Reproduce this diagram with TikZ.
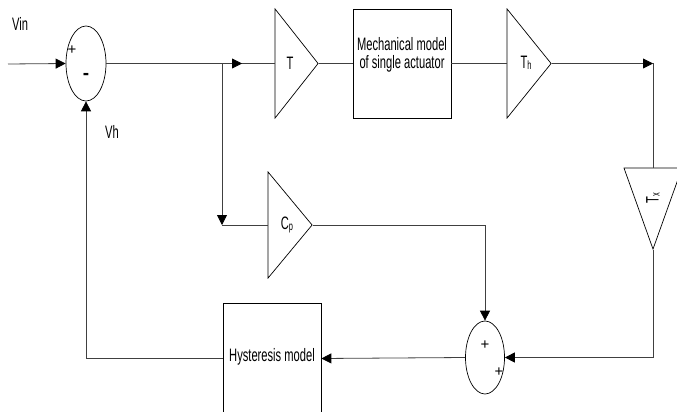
\documentclass[tikz,border=0pt]{standalone}
\usepackage{fontspec}
\setmainfont{Liberation Sans}[FakeStretch=0.62]
\newfontfamily\signfont{Liberation Sans}
\usetikzlibrary{shapes.geometric,arrows.meta}

\newcommand\sbs[1]{\raisebox{-1pt}{\fontsize{12}{12}\selectfont #1}}

\tikzset{
    line/.style={draw=black!75, line width=0.8pt},
    arr/.style={line, -{Triangle[length=10pt,width=10pt,black]}},
    sumnode/.style={ellipse, draw, line width=0.7pt, inner sep=0pt},
    gain/.style={isosceles triangle, isosceles triangle stretches, draw, line width=0.7pt, inner sep=0pt},
    blockbox/.style={rectangle, draw, line width=0.7pt, inner sep=0pt},
    signlab/.style={font=\signfont\fontsize{15}{15}\selectfont, inner sep=0pt}
}

\begin{document}
\begin{tikzpicture}[x=1pt, y=-1pt, font=\fontsize{18}{18}\selectfont]
    \useasboundingbox (0,0) rectangle (677,412);

    % 求和点
    \node[sumnode, minimum width=40pt, minimum height=75pt] (sumA) at (86,63.5) {};
    \node[sumnode, minimum width=39pt, minimum height=73pt] (sumB) at (485,357.5) {};
    \node[signlab] (sumAp) at (72,50) {+};
    \node[signlab, font=\signfont\fontsize{19}{19}\selectfont\bfseries] (sumAm) at (86,76) {-};
    \node[signlab] (sumBp) at (485,345) {+};
    \node[signlab] (sumBq) at (499,372) {+};

    % 增益三角形
    \node[gain, anchor=apex, minimum width=109pt, minimum height=43pt] (gainT) at (319,63.5) {};
    \node[gain, anchor=apex, minimum width=109pt, minimum height=44pt] (gainTh) at (552,63.5) {};
    \node[gain, anchor=apex, minimum width=106pt, minimum height=44pt] (gainCp) at (313,225) {};
    \node[gain, anchor=apex, shape border rotate=270, minimum width=58pt, minimum height=81pt] (gainTx) at (653,250) {};
    \node (Tlab) at (290,63) {T};
    \node (Thlab) at (526,63) {T\sbs{h}};
    \node (Cplab) at (287,225) {C\sbs{p}};
    \node[rotate=90] (Txlab) at (653,198) {T\sbs{x}};

    % 方框
    \node[blockbox, minimum width=98pt, minimum height=109pt] (mech) at (402,63.5) {};
    \node[align=center] (mechlab) at (402,55) {Mechanical model\\of single actuator};
    \node[blockbox, minimum width=98pt, minimum height=111pt] (hyst) at (272,358.5) {};
    \node (hystlab) at (272,357) {Hysteresis model};

    % 标注
    \node (vinlab) at (20,24) {Vin};
    \node (vhlab) at (112,132) {Vh};

    % 连线
    \coordinate (vin) at (8,64);
    \coordinate (brA) at (222,63.5);
    \coordinate (midA) at (242,63.5);
    \coordinate (brB) at (222,225);
    \coordinate (cnr) at (653,63.5);
    \draw[arr] (vin) -- (sumA.west);
    \draw[line] (sumA.east) -- (gainT.west);
    \draw[arr] (brA) -- (midA);
    \draw[line] (gainT.apex) -- (mech.west);
    \draw[line] (mech.east) -- (gainTh.west);
    \draw[arr] (gainTh.apex) -- (cnr);
    \draw[line] (cnr) -- (gainTx.north);
    \draw[arr] (brA) -- (brB);
    \draw[line] (brB) -- (gainCp.west);
    \draw[arr] (gainCp.apex) -| (sumB.north);
    \draw[arr] (gainTx.apex) |- (sumB.east);
    \draw[arr] (sumB.west) -- (hyst.east);
    \draw[arr] (hyst.west) -| (sumA.south);

\end{tikzpicture}
\end{document}
